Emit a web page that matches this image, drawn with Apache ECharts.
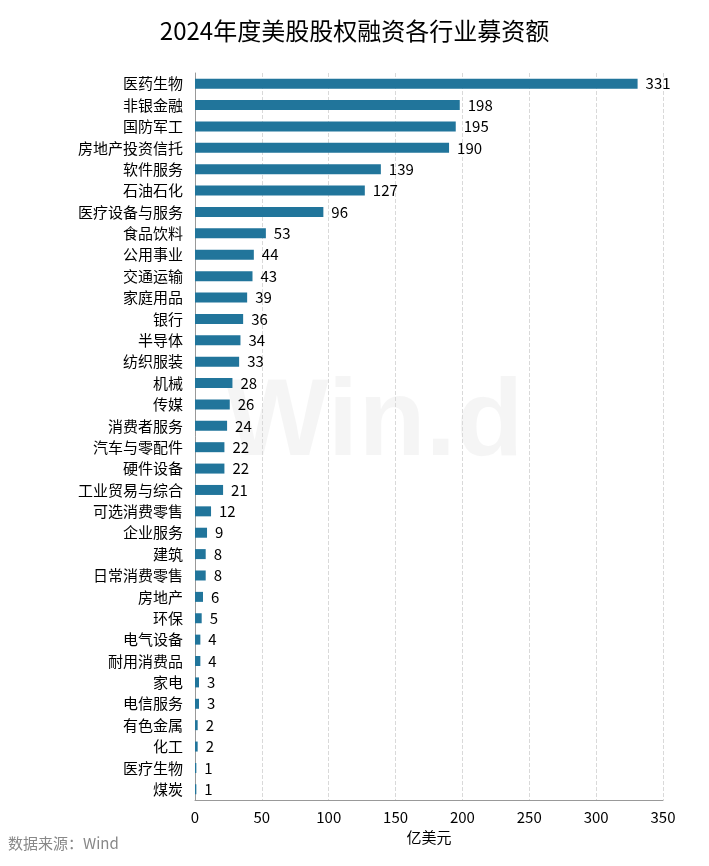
<!DOCTYPE html>
<html><head><meta charset="utf-8">
<script src="https://cdn.jsdelivr.net/npm/echarts@6/dist/echarts.min.js"></script>
<style>html,body{margin:0;padding:0;background:#fff}#c{width:709px;height:866px}</style>
</head><body><div id="c"></div>
<script>
const categories=["医药生物","非银金融","国防军工","房地产投资信托","软件服务","石油石化","医疗设备与服务","食品饮料","公用事业","交通运输","家庭用品","银行","半导体","纺织服装","机械","传媒","消费者服务","汽车与零配件","硬件设备","工业贸易与综合","可选消费零售","企业服务","建筑","日常消费零售","房地产","环保","电气设备","耐用消费品","家电","电信服务","有色金属","化工","医疗生物","煤炭"];
const values=[331,198,195,190,139,127,96,53,44,43,39,36,34,33,28,26,24,22,22,21,12,9,8,8,6,5,4,4,3,3,2,2,1,1];
const xTicks={min:0,max:350,interval:50};
const chart=echarts.init(document.getElementById('c'));
const F='"Noto Sans CJK SC","Noto Sans",sans-serif';
chart.setOption({
 animation:false,
 title:{text:'2024年度美股股权融资各行业募资额',left:'center',top:14,textStyle:{fontFamily:F,fontSize:24,fontWeight:'normal',color:'#000'}},
 graphic:[{type:'text',left:8,top:836,style:{text:'数据来源：Wind',fontFamily:F,fontSize:15,fill:'#888'}},
  {type:'text',left:225,top:370,style:{text:'Win.d',fontFamily:'Arial',fontSize:110,fontWeight:'bold',fill:'rgba(0,0,0,0.04)'}}],
 grid:{left:195,right:46,top:73,bottom:66},
 xAxis:{type:'value',min:xTicks.min,max:xTicks.max,interval:xTicks.interval,
  name:'亿美元',nameLocation:'middle',nameGap:28,nameTextStyle:{fontFamily:F,fontSize:15,color:'#000'},
  axisLine:{show:true,lineStyle:{color:'#999'}},axisTick:{show:false},
  axisLabel:{fontFamily:F,fontSize:15,color:'#000',margin:10},
  splitLine:{lineStyle:{type:'dashed',color:'#d9d9d9'}}},
 yAxis:{type:'category',data:categories,inverse:true,
  axisLine:{show:true,lineStyle:{color:'#999'}},axisTick:{show:false},
  axisLabel:{fontFamily:F,fontSize:15,color:'#000',margin:12}},
 series:[{type:'bar',data:values,barWidth:10,itemStyle:{color:'#21759b'},
  label:{show:true,position:'right',distance:8,fontFamily:F,fontSize:15,color:'#000'}}]
});
</script></body></html>
